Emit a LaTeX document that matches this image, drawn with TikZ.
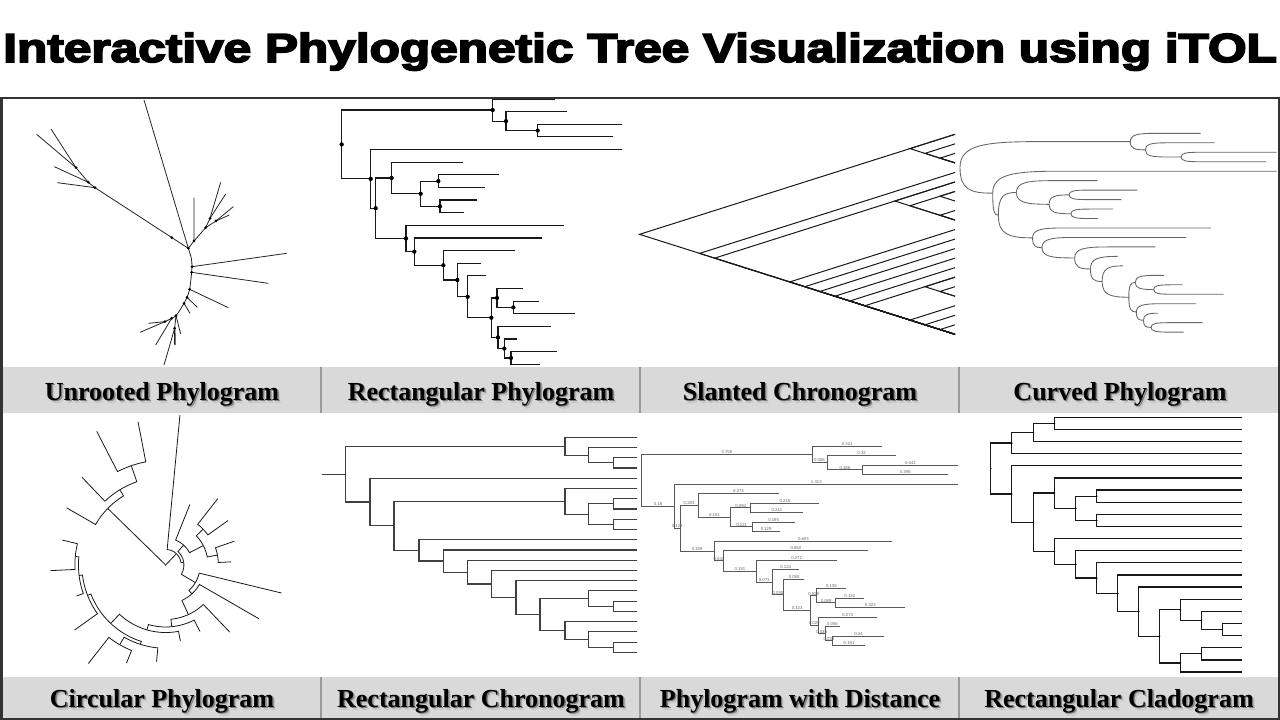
\documentclass[tikz,border=0pt]{standalone}
\usepackage{fontspec}
\usepackage{graphicx}
\newfontfamily\titlefont[FakeBold=4]{Liberation Sans}
\newfontfamily\labelfont{Liberation Serif}
\newfontfamily\numfont{Liberation Sans}
% \EDGE{parent x rect}{parent x chrono}{parent y idx}{child x rect}{child x chrono}{child y idx}{distance}
\newcommand\TREEDATA{%
\EDGE{65}{77}{4.599}{518}{735}{1.875}{0.758}%
\EDGE{65}{77}{4.599}{152}{150}{7.323}{0.18}%
\EDGE{518}{735}{1.875}{705}{952}{1}{0.321}%
\EDGE{518}{735}{1.875}{558}{805}{2.75}{0.058}%
\EDGE{558}{805}{2.75}{742}{952}{2}{0.32}%
\EDGE{558}{805}{2.75}{653}{880}{3.5}{0.186}%
\EDGE{653}{880}{3.5}{907}{952}{3}{0.441}%
\EDGE{653}{880}{3.5}{880}{952}{4}{0.395}%
\EDGE{152}{150}{7.323}{907}{952}{5}{1.313}%
\EDGE{152}{150}{7.323}{167}{222}{9.646}{0.128}%
\EDGE{167}{222}{9.646}{215}{735}{7.25}{0.283}%
\EDGE{167}{222}{9.646}{258}{297}{12.041}{0.159}%
\EDGE{215}{735}{7.25}{430}{952}{6}{0.373}%
\EDGE{215}{735}{7.25}{302}{805}{8.5}{0.151}%
\EDGE{302}{805}{8.5}{355}{880}{7.5}{0.094}%
\EDGE{302}{805}{8.5}{360}{880}{9.5}{0.121}%
\EDGE{355}{880}{7.5}{537}{952}{7}{0.215}%
\EDGE{355}{880}{7.5}{494}{952}{8}{0.241}%
\EDGE{360}{880}{9.5}{472}{952}{9}{0.195}%
\EDGE{360}{880}{9.5}{432}{952}{10}{0.129}%
\EDGE{258}{297}{12.041}{732}{952}{11}{0.603}%
\EDGE{258}{297}{12.041}{283}{370}{13.082}{0.043}%
\EDGE{283}{370}{13.082}{667}{952}{12}{0.550}%
\EDGE{283}{370}{13.082}{370}{442}{14.164}{0.151}%
\EDGE{370}{442}{14.164}{584}{952}{13}{0.272}%
\EDGE{370}{442}{14.164}{412}{515}{15.328}{0.073}%
\EDGE{412}{515}{15.328}{484}{952}{14}{0.124}%
\EDGE{412}{515}{15.328}{443}{588}{16.656}{0.050}%
\EDGE{443}{588}{16.656}{498}{952}{15}{0.085}%
\EDGE{443}{588}{16.656}{514}{660}{18.3125}{0.123}%
\EDGE{514}{660}{18.3125}{531}{805}{16.75}{0.029}%
\EDGE{514}{660}{18.3125}{534}{735}{19.875}{0.029}%
\EDGE{531}{805}{16.75}{608}{952}{16}{0.135}%
\EDGE{531}{805}{16.75}{580}{880}{17.5}{0.069}%
\EDGE{580}{880}{17.5}{657}{952}{17}{0.132}%
\EDGE{580}{880}{17.5}{766}{952}{18}{0.322}%
\EDGE{534}{735}{19.875}{692}{952}{19}{0.274}%
\EDGE{534}{735}{19.875}{553}{805}{20.75}{0.039}%
\EDGE{553}{805}{20.75}{592}{952}{20}{0.056}%
\EDGE{553}{805}{20.75}{573}{880}{21.5}{0.039}%
\EDGE{573}{880}{21.5}{710}{952}{21}{0.24}%
\EDGE{573}{880}{21.5}{660}{952}{22}{0.181}%
}
\newcommand\SLN[2]{%
\pgfmathsetmacro\sya{sy(#1)}\pgfmathsetmacro\syb{sy(#2)}%
\pgfmathsetmacro\sxn{945-(\syb-\sya)/0.634}\pgfmathsetmacro\syn{(\sya+\syb)/2}%
\draw[sc] (945,\sya) -- (\sxn,\syn) -- (945,\syb);}
\newcommand\plabel[4]{% name, x, y, text (with soft drop shadow)
\node[lbl] (#1) at (#2,#3) {%
 \makebox[0pt][l]{\hspace{2pt}\raisebox{-2.4pt}{\color{black!22}#4}}%
 \makebox[0pt][l]{\hspace{1.1pt}\raisebox{-1.3pt}{\color{black!50}#4}}#4};}
\begin{document}
\begin{tikzpicture}[x=0.75pt,y=-0.75pt,
  rp/.style={line width=0.9pt, draw=black!90},
  ur/.style={line width=0.6pt, draw=black!85},
  sc/.style={line width=0.75pt, draw=black!90},
  cv/.style={line width=0.65pt, draw=black!60},
  cp/.style={line width=0.6pt, draw=black!90},
  rc/.style={line width=0.85pt, draw=black!75},
  dl/.style={line width=0.6pt, draw=black!65},
  cl/.style={line width=0.95pt, draw=black!90},
  dlab/.style={font=\numfont\fontsize{3.2}{3.4}\selectfont, text=black!60, inner sep=0.3pt, anchor=south},
  lbl/.style={font=\labelfont\bfseries\fontsize{19.5}{22}\selectfont, anchor=base, inner sep=0pt},
  band/.style={fill=black!15, draw=none},
  sep/.style={draw=black!40, line width=0.8pt}]
\useasboundingbox (0,0) rectangle (1280,720);
\fill[white] (0,0) rectangle (1280,720);

% ---------- Panel 1: unrooted phylogram ----------
\begin{scope}[shift={(0,95)}, scale=1/3]
 \draw[ur] (432,15) -- (565,460);
 \draw[ur] (565,460) -- (285,278) -- (265,262) -- (228,218) -- (110,118);
 \draw[ur] (285,278) -- (172,263);
 \draw[ur] (265,262) -- (163,215);
 \draw[ur] (228,218) -- (153,102);
 \draw[ur] plot[smooth] coordinates {(565,460) (574,490) (576,515) (575,532) (569,583) (561,607) (552,625) (540,645) (528,662) (515,670) (495,680)};
 \draw[ur] (576,515) -- (860,475);
 \draw[ur] (575,532) -- (805,565);
 \draw[ur] (569,583) -- (685,638);
 \draw[ur] (561,607) -- (592,637);
 \draw[ur] (552,625) -- (570,655);
 \draw[ur] (528,662) -- (542,717);
 \draw[ur] (528,662) -- (524,700) -- (492,810);
 \draw[ur, line width=1.1pt] (524,700) -- (525,750);
 \draw[ur] (515,670) -- (467,750);
 \draw[ur] (495,680) -- (420,712);
 \draw[ur] (495,680) -- (445,685);
 \draw[ur] (565,460) -- (582,438) -- (582,308);
 \draw[ur] (582,438) -- (617,398) -- (630,370) -- (662,262);
 \draw[ur] (630,370) -- (677,297);
 \draw[ur] (617,398) -- (648,378) -- (700,335);
 \draw[ur] (648,378) -- (688,360);
 \foreach \p in {(565,460),(515,428),(285,278),(265,262),(228,218),(582,438),(617,398),(630,370),(648,378),(576,515),(575,532),(569,583),(561,607),(552,625),(528,662),(515,670),(495,680),(524,700)}
   \fill \p circle (4.5);
\end{scope}

% ---------- Panel 2: rectangular phylogram ----------
\begin{scope}[shift={(320,95)}, scale=1/3, declare function={ly(\i)=12+(\i-1)*37.9;}]
 \def\EDGE#1#2#3#4#5#6#7{\draw[rp] (#4,{ly(#6)}) -| (#1,{ly(#3)}); \fill (#1,{ly(#3)}) circle (6);}
 \TREEDATA
\end{scope}

% ---------- Panel 3: slanted chronogram ----------
\begin{scope}[shift={(640,95)}, scale=1/3, declare function={sy(\i)=118+(\i-1)*28.571;}]
 \SLN{1}{22}\SLN{1}{4}\SLN{2}{4}\SLN{3}{4}\SLN{5}{22}\SLN{6}{22}\SLN{6}{10}\SLN{7}{10}
 \SLN{7}{8}\SLN{9}{10}\SLN{11}{22}\SLN{12}{22}\SLN{13}{22}\SLN{14}{22}\SLN{15}{22}
 \SLN{16}{22}\SLN{16}{18}\SLN{17}{18}\SLN{19}{22}\SLN{20}{22}\SLN{21}{22}
\end{scope}

% ---------- Panel 4: curved phylogram ----------
\begin{scope}[shift={(960,95)}, scale=1/3, declare function={ly(\i)=115+(\i-1)*28.4; lx(\x)=(\x-65)*1.128;}]
 \def\EDGE#1#2#3#4#5#6#7{%
  \pgfmathsetmacro\xp{lx(#1)}\pgfmathsetmacro\yp{ly(#3)}%
  \pgfmathsetmacro\xc{lx(#4)}\pgfmathsetmacro\yc{ly(#6)}%
  \pgfmathsetmacro\dd{min(\xc-\xp, max(55, 3*abs(\yc-\yp)))}%
  \pgfmathsetmacro\ya{\yp+0.85*(\yc-\yp)}\pgfmathsetmacro\xa{\xp+0.3*\dd}\pgfmathsetmacro\xb{\xp+\dd}%
  \draw[cv] (\xp,\yp) .. controls (\xp,\ya) and (\xa,\yc) .. (\xb,\yc) -- (\xc,\yc);}
 \TREEDATA
\end{scope}

% ---------- Panel 5: circular phylogram ----------
\begin{scope}[shift={(0,410)}, scale=1/3]
 \begin{scope}[shift={(497,465)}, yscale=-1, declare function={ca(\i)=150-(\i-1)*16.36; cr(\x)=max((\x-65)*0.536,0.2);}]
  \def\EDGE#1#2#3#4#5#6#7{%
   \pgfmathsetmacro\rp{cr(#1)}\pgfmathsetmacro\tp{ca(#3)}%
   \pgfmathsetmacro\rc{cr(#4)}\pgfmathsetmacro\tc{ca(#6)}%
   \draw[cp] plot[domain=\tp:\tc, samples=16, variable=\t] (\t:\rp) -- (\tc:\rc);}
  \TREEDATA
 \end{scope}
\end{scope}

% ---------- Panel 6: rectangular chronogram ----------
\begin{scope}[shift={(320,410)}, scale=1/3, declare function={ly(\i)=82+(\i-1)*30.71;}]
 \def\EDGE#1#2#3#4#5#6#7{\draw[rc] (#5,{ly(#6)}) -| (#2,{ly(#3)});}
 \TREEDATA
 \draw[rc] (5,{ly(4.599)}) -- (77,{ly(4.599)});
\end{scope}

% ---------- Panel 7: phylogram with distance ----------
\begin{scope}[shift={(640,410)}, scale=1/3, declare function={ly(\i)=108+(\i-1)*28.52; lx(\x)=5+(\x-65)*1.128;}]
 \def\EDGE#1#2#3#4#5#6#7{\draw[dl] ({lx(#4)},{ly(#6)}) -| ({lx(#1)},{ly(#3)});
   \node[dlab] at ({(lx(#1)+lx(#4))/2},{ly(#6)}) {#7};}
 \TREEDATA
\end{scope}

% ---------- Panel 8: rectangular cladogram ----------
\begin{scope}[shift={(960,410)}, scale=1/3, declare function={cy(\i)=22+(\i-1)*36.38;}]
 \def\CE#1#2#3#4{\draw[cl] (#3,{cy(#4)}) -| (#1,{cy(#2)}); \fill (#1,{cy(#2)}) circle (2.5);}
 \CE{92}{5.227}{155}{3.125}\CE{92}{5.227}{155}{7.329}
 \CE{155}{3.125}{220}{2.25}\CE{155}{3.125}{845}{4}
 \CE{220}{2.25}{283}{1.5}\CE{220}{2.25}{845}{3}
 \CE{283}{1.5}{845}{1}\CE{283}{1.5}{845}{2}
 \CE{155}{7.329}{845}{5}\CE{155}{7.329}{220}{9.657}
 \CE{220}{9.657}{283}{7.25}\CE{220}{9.657}{283}{12.064}
 \CE{283}{7.25}{845}{6}\CE{283}{7.25}{347}{8.5}
 \CE{347}{8.5}{410}{7.5}\CE{347}{8.5}{410}{9.5}
 \CE{410}{7.5}{845}{7}\CE{410}{7.5}{845}{8}
 \CE{410}{9.5}{845}{9}\CE{410}{9.5}{845}{10}
 \CE{283}{12.064}{845}{11}\CE{283}{12.064}{347}{13.129}
 \CE{347}{13.129}{845}{12}\CE{347}{13.129}{410}{14.258}
 \CE{410}{14.258}{845}{13}\CE{410}{14.258}{473}{15.516}
 \CE{473}{15.516}{845}{14}\CE{473}{15.516}{536}{17.03}
 \CE{536}{17.03}{845}{15}\CE{536}{17.03}{598}{19.0625}
 \CE{598}{19.0625}{661}{16.875}\CE{598}{19.0625}{661}{21.25}
 \CE{661}{16.875}{845}{16}\CE{661}{16.875}{724}{17.75}
 \CE{724}{17.75}{845}{17}\CE{724}{17.75}{787}{18.5}
 \CE{787}{18.5}{845}{18}\CE{787}{18.5}{845}{19}
 \CE{661}{21.25}{724}{20.5}\CE{661}{21.25}{845}{22}
 \CE{724}{20.5}{845}{20}\CE{724}{20.5}{845}{21}
\end{scope}

% ---------- bands, separators, labels ----------
\fill[band] (2,367) rectangle (1278,413);
\fill[band] (2,677) rectangle (1278,718);
\foreach \sx in {321,640,959} {
  \draw[sep] (\sx,367) -- (\sx,413);
  \draw[sep] (\sx,677) -- (\sx,718);
}
\plabel{l1}{162}{400}{Unrooted Phylogram}
\plabel{l2}{481}{400}{Rectangular Phylogram}
\plabel{l3}{800}{400}{Slanted Chronogram}
\plabel{l4}{1120}{400}{Curved Phylogram}
\plabel{l5}{162}{707}{Circular Phylogram}
\plabel{l6}{481}{707}{Rectangular Chronogram}
\plabel{l7}{800}{707}{Phylogram with Distance}
\plabel{l8}{1119}{707}{Rectangular Cladogram}

% ---------- frame ----------
\draw[draw=black!80, line width=1.5pt] (1.5,98) rectangle (1278.5,719);

% ---------- title ----------
\node[anchor=base west, inner sep=0pt] (title) at (3,62)
  {\resizebox{955pt}{22pt}{\titlefont\bfseries Interactive Phylogenetic Tree Visualization using iTOL}};
\end{tikzpicture}
\end{document}
